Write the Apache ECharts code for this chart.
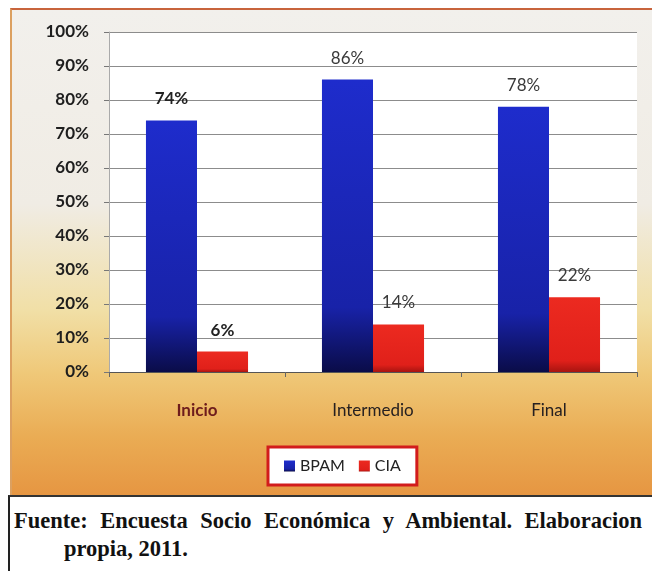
<!DOCTYPE html>
<html>
<head>
  <meta charset="utf-8">
  <title>BPAM vs CIA</title>
  <script src="https://cdn.jsdelivr.net/npm/echarts@6.0.0/dist/echarts.min.js"></script>
  <style>
    body { margin: 0; background: #fff; }
    #wrap { position: relative; width: 652px; height: 571px; overflow: hidden; background: #fff; }
    #frame {
      position: absolute; left: 10px; top: 8px; width: 642px; height: 487px;
      border-top: 2px solid #c8643c; border-left: 2px solid #dca060; box-sizing: border-box;
      background: linear-gradient(to bottom, #f2f0ec 0%, #f0ece4 40%, #f1dfa6 62%, #efc878 75%, #eaac54 88%, #e69642 100%);
    }
    #main { position: absolute; left: 0; top: 0; width: 652px; height: 495px; }
    #caption {
      position: absolute; left: 8px; top: 495px; width: 644px; height: 76px; box-sizing: border-box;
      border-top: 2px solid #333; border-left: 2px solid #222; background: #fff;
      font-family: "Liberation Serif", serif; font-weight: bold; font-size: 22.5px; line-height: 28px;
      color: #111; padding: 10px 10px 0 4px;
    }
    #caption .l1 { text-align: justify; text-align-last: justify; }
    #caption .l2 { padding-left: 50px; }
  </style>
</head>
<body>
  <div id="wrap">
    <div id="frame"></div>
    <div id="main"></div>
    <div id="caption"><div class="l1">Fuente: Encuesta Socio Económica y Ambiental. Elaboracion</div><div class="l2">propia, 2011.</div></div>
  </div>
  <script type="text/javascript">
    const categories = ['Inicio', 'Intermedio', 'Final'];
    const bpam = [74, 86, 78];
    const cia = [6, 14, 22];
    const boldLabels = [true, false, false]; // first group printed in bold

    const blueFill = new echarts.graphic.LinearGradient(0, 0, 0, 1, [
      { offset: 0, color: '#1e2ccc' },
      { offset: 0.78, color: '#1822a8' },
      { offset: 1, color: '#0a0c48' }
    ]);
    const redFill = new echarts.graphic.LinearGradient(0, 0, 0, 1, [
      { offset: 0, color: '#ec2a20' },
      { offset: 0.85, color: '#e0201a' },
      { offset: 1, color: '#a81410' }
    ]);

    const withLabels = (vals) => vals.map((v, i) => ({
      value: v,
      label: { fontWeight: boldLabels[i] ? 'bold' : 'normal', color: boldLabels[i] ? '#222' : '#3a3a3a' }
    }));

    const chart = echarts.init(document.getElementById('main'));

    const option = {
      backgroundColor: 'transparent',
      textStyle: { fontFamily: 'Lato' },
      grid: {
        left: 109, right: 15, top: 32, height: 340,
        show: true, backgroundColor: '#ffffff', borderWidth: 0
      },
      legend: {
        data: ['BPAM', 'CIA'],
        left: 268, top: 447,
        icon: 'rect', itemWidth: 11, itemHeight: 11, itemGap: 14,
        padding: [11, 16],
        backgroundColor: '#ffffff', borderColor: '#d21c1c', borderWidth: 3,
        textStyle: { fontSize: 16, color: '#222', fontFamily: 'Lato' }
      },
      xAxis: {
        type: 'category',
        data: categories,
        axisLine: { lineStyle: { color: '#555', width: 1 } },
        axisTick: { show: true, length: 5, lineStyle: { color: '#666' } },
        axisLabel: {
          margin: 30,
          formatter: (v, i) => boldLabels[i] ? '{b|' + v + '}' : '{n|' + v + '}',
          rich: {
            b: { fontSize: 17, fontWeight: 'bold', color: '#6e1c1c', fontFamily: 'Lato' },
            n: { fontSize: 17, fontWeight: 'normal', color: '#262020', fontFamily: 'Lato' }
          }
        }
      },
      yAxis: {
        type: 'value',
        min: 0, max: 100, interval: 10,
        axisLine: { show: true, lineStyle: { color: '#aaa' } },
        axisTick: { show: true, length: 5, lineStyle: { color: '#777' } },
        axisLabel: { formatter: '{value}%', fontSize: 17, color: '#1e1e1e', fontWeight: 'bold', margin: 20 },
        splitLine: { lineStyle: { color: '#8c8c8c', width: 1 } }
      },
      series: [
        {
          name: 'BPAM', type: 'bar', data: withLabels(bpam),
          barGap: '0%', barCategoryGap: '42%',
          itemStyle: { color: blueFill },
          label: { show: true, position: 'top', distance: 13, formatter: '{c}%', fontSize: 17 }
        },
        {
          name: 'CIA', type: 'bar', data: withLabels(cia),
          itemStyle: { color: redFill },
          label: { show: true, position: 'top', distance: 13, formatter: '{c}%', fontSize: 17 }
        }
      ]
    };

    chart.setOption(option);
  </script>
</body>
</html>
